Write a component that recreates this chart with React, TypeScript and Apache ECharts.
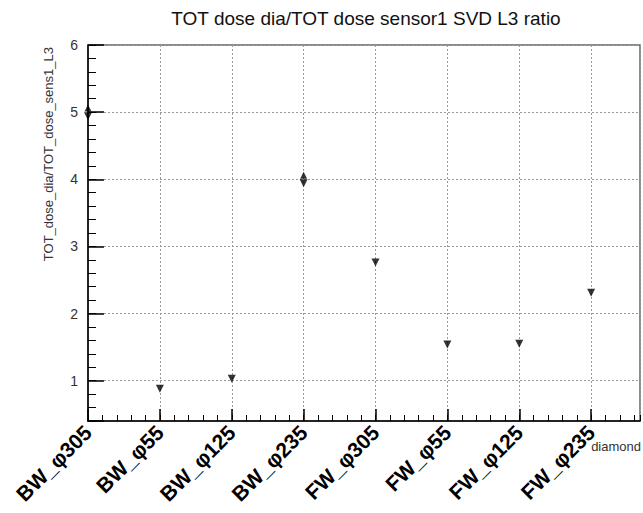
import { useEffect, useRef } from "react";
import * as echarts from "echarts";

const categories = ["BW_φ305", "BW_φ55", "BW_φ125", "BW_φ235", "FW_φ305", "FW_φ55", "FW_φ125", "FW_φ235"];
const ratioDown: (number | null)[] = [4.94, 0.88, 1.03, 3.94, 2.76, 1.54, 1.55, 2.31];
const ratioUp: (number | null)[] = [5.06, null, null, 4.06, null, null, null, null];
const titleText = "TOT dose dia/TOT dose sensor1 SVD L3 ratio";
const yTitle = "TOT_dose_dia/TOT_dose_sens1_L3";
const xTitle = "diamond";
const xMax = 7.68;
const yMin = 0.4;
const yMax = 6;

const FONT = "Liberation Sans, Arial, Helvetica, sans-serif";

export default function App() {
  const ref = useRef<HTMLDivElement>(null);
  useEffect(() => {
    if (!ref.current) return;
    const chart = echarts.init(ref.current, null, { renderer: "svg" });
    const isInt = (v: number) => Math.abs(v - Math.round(v)) < 1e-6;
    const box = { left: 88, right: 3, top: 45, bottom: 92 };
    chart.setOption({
      animation: false,
      backgroundColor: "#fff",
      grid: [
        { ...box, show: true, borderColor: "#666", borderWidth: 1.5, backgroundColor: "transparent" },
        { ...box, show: false },
      ],
      graphic: [
        { type: "text", x: 366, y: 18, style: { text: titleText, fontSize: 19, fontFamily: FONT, fill: "#111", align: "center", verticalAlign: "middle" } },
        { type: "text", x: 48, y: 47, rotation: Math.PI / 2, style: { text: yTitle, fontSize: 13, fontFamily: FONT, fill: "#333", align: "right", verticalAlign: "middle" } },
        { type: "text", x: 641, y: 446, style: { text: xTitle, fontSize: 13, fontFamily: FONT, fill: "#333", align: "right", verticalAlign: "middle" }, z: -1 },
      ],
      xAxis: [
        {
          type: "value", gridIndex: 0, min: 0, max: xMax, interval: 1, position: "bottom",
          axisLine: { show: true, onZero: false, lineStyle: { color: "#000", width: 1.5 } },
          axisTick: { show: true, inside: true, length: 12, lineStyle: { color: "#000", width: 1.5 } },
          axisLabel: {
            show: true, rotate: 45, margin: 8, fontSize: 21, fontWeight: "bold", fontFamily: FONT, color: "#000",
            showMaxLabel: false,
            formatter: (v: number) => (isInt(v) && v >= 0 && v < categories.length ? categories[Math.round(v)] : ""),
          },
          splitLine: { show: true, lineStyle: { color: "#999", type: [2, 2], width: 1 } },
        },
        {
          type: "value", gridIndex: 1, min: 0, max: xMax, interval: 0.2, position: "bottom",
          axisLine: { show: false, onZero: false },
          axisTick: { show: true, inside: true, length: 6, lineStyle: { color: "#000", width: 1 } },
          axisLabel: { show: false },
          splitLine: { show: false },
        },
      ],
      yAxis: [
        {
          type: "value", gridIndex: 0, min: yMin, max: yMax, splitNumber: 5, position: "left",
          axisLine: { show: true, onZero: false, lineStyle: { color: "#000", width: 1.5 } },
          axisTick: { show: true, inside: true, length: 16, lineStyle: { color: "#000", width: 1.5 } },
          axisLabel: {
            show: true, margin: 10, fontSize: 14, fontFamily: FONT, color: "#333",
            formatter: (v: number) => (isInt(v) && v >= 1 ? String(Math.round(v)) : ""),
          },
          splitLine: { show: true, lineStyle: { color: "#999", type: [2, 2], width: 1 } },
        },
        {
          type: "value", gridIndex: 1, min: yMin, max: yMax, interval: 0.2, position: "left",
          axisLine: { show: false, onZero: false },
          axisTick: { show: true, inside: true, length: 8, lineStyle: { color: "#000", width: 1 } },
          axisLabel: { show: false },
          splitLine: { show: false },
        },
      ],
      series: [
        {
          type: "scatter", xAxisIndex: 0, yAxisIndex: 0, clip: false,
          symbol: "triangle", symbolRotate: 180, symbolSize: 8,
          itemStyle: { color: "#000" },
          data: ratioDown.map((v, i) => (v == null ? null : [i, v])).filter((d) => d),
          z: 5,
        },
        {
          type: "scatter", xAxisIndex: 0, yAxisIndex: 0, clip: false,
          symbol: "triangle", symbolSize: 7,
          itemStyle: { color: "#000" },
          data: ratioUp.map((v, i) => (v == null ? null : [i, v])).filter((d) => d),
          z: 5,
        },
      ],
    });
    return () => chart.dispose();
  }, []);
  return <div ref={ref} style={{ position: "fixed", left: 0, top: 0, width: 643, height: 513 }} />;
}
